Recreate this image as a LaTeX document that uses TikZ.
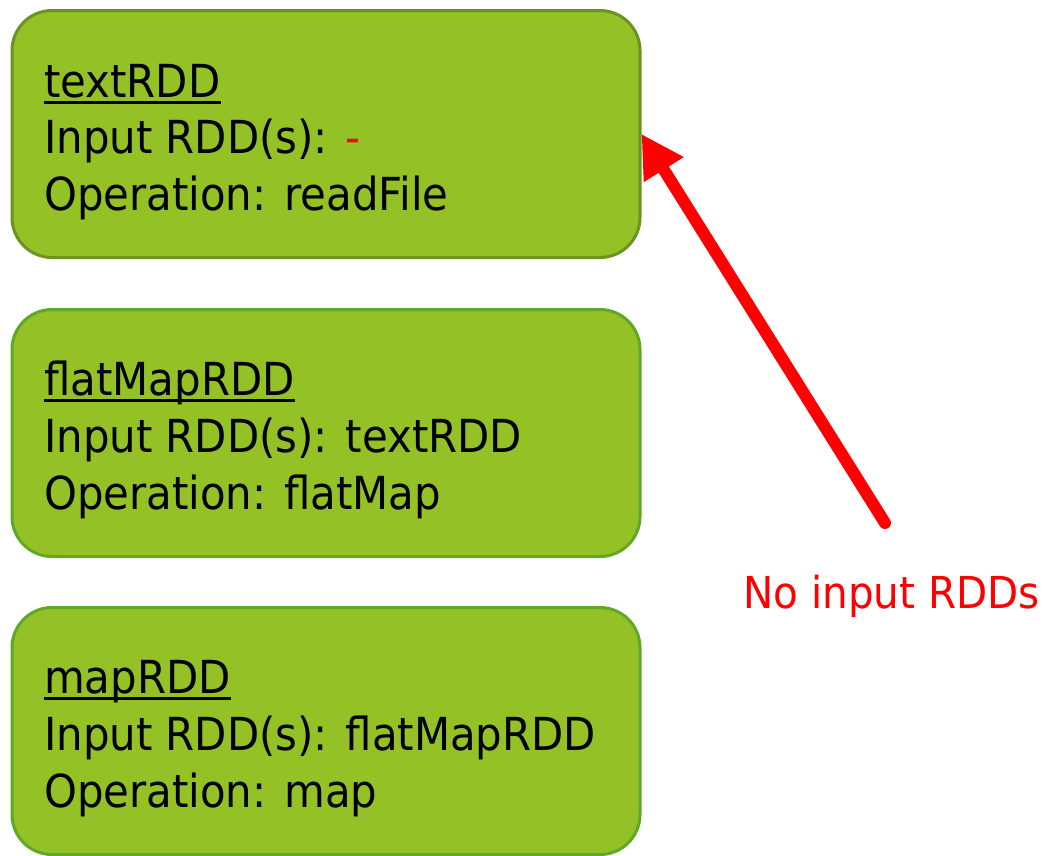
\documentclass[tikz,border=0pt]{standalone}
\usepackage{fontspec}
\setmainfont{DejaVu Sans}[FakeStretch=0.92]
\usetikzlibrary{arrows.meta}
\definecolor{boxfill}{RGB}{147,193,38}
\definecolor{boxlineA}{RGB}{110,145,35}
\definecolor{boxlineB}{RGB}{96,168,40}
\definecolor{redarrow}{RGB}{255,0,0}
\begin{document}
\begin{tikzpicture}[x=1pt,y=-1pt,
  rddbox/.style={draw=boxlineB, fill=boxfill, line width=3pt, rounded corners=40pt,
    minimum width=628pt, minimum height=247pt, inner sep=0pt},
  txt/.style={anchor=base west, inner sep=0pt, font=\fontsize{45.5}{52}\selectfont},
  uline/.style={line width=3pt},
  redline/.style={draw=redarrow, line width=12pt, line cap=round,
    -{Triangle[length=42pt,width=44pt]}}
]
\useasboundingbox (0,0) rectangle (1056,855);

\node[rddbox, draw=boxlineA] (box1) at (326,134) {};
\node[rddbox] (box2) at (326,433) {};
\node[rddbox] (box3) at (326,731) {};

\node[txt] (t1) at (44,97) {textRDD};
\node[txt] (i1) at (44,153) {Input RDD(s): \textcolor{redarrow}{-}};
\node[txt] (o1) at (44,210) {Operation: readFile};

\node[txt] (t2) at (44,395) {flatMapRDD};
\node[txt] (i2) at (44,452) {Input RDD(s): textRDD};
\node[txt] (o2) at (44,509) {Operation: flatMap};

\node[txt] (t3) at (44,693) {mapRDD};
\node[txt] (i3) at (44,750) {Input RDD(s): flatMapRDD};
\node[txt] (o3) at (44,807) {Operation: map};

\foreach \n in {t1,t2,t3}{
  \draw[uline] ([yshift=-5pt]\n.base west) -- ([yshift=-5pt]\n.base east);
}

\node[txt, text=redarrow, font=\fontsize{44}{52}\selectfont] (lab) at (743,608) {No input RDDs};
\coordinate (tail) at (885,523);
\draw[redline] (tail) -- (box1.east);
\end{tikzpicture}
\end{document}
